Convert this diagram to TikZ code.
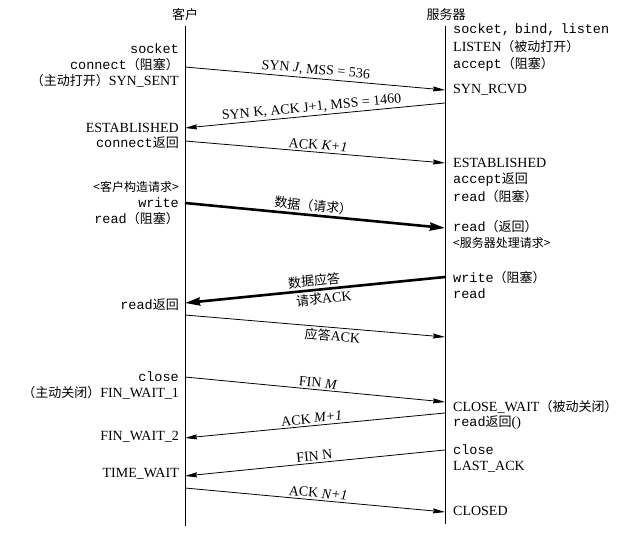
\documentclass[tikz,border=0pt]{standalone}
\usepackage{fontspec}
\setmainfont{Liberation Serif}
\setmonofont{Liberation Mono}
\newfontfamily\cjk{Noto Sans CJK SC}
\usetikzlibrary{arrows.meta}
\newcommand{\zh}[1]{{\cjk\fontsize{13}{15}\selectfont #1}}
\newcommand{\tm}[1]{{\ttfamily\fontsize{13.5}{15}\selectfont #1}}
\newcommand{\smallzh}[1]{{\cjk\fontsize{12}{14}\selectfont #1}}
\begin{document}
\begin{tikzpicture}[x=1pt,y=-1pt,
  lt/.style={anchor=east,inner sep=0pt,font=\fontsize{14}{16}\selectfont},
  rt/.style={anchor=west,inner sep=0pt,font=\fontsize{14}{16}\selectfont},
  msg/.style={line width=0.8pt,-{Stealth[length=12pt,width=5pt,inset=1pt]}},
  bigmsg/.style={line width=2.6pt,-{Stealth[length=15pt,width=8pt,inset=1pt]}},
  lbl/.style={sloped,inner sep=2pt,font=\fontsize{14}{16}\selectfont},
  life/.style={line width=0.8pt},
  ttl/.style={inner sep=1pt,font=\cjk\fontsize{13}{15}\selectfont}]
\fill[white] (0,0) rectangle (625,534);
\useasboundingbox (0,0) rectangle (625,534);

% titles and lifelines
\node[ttl] (ctitle) at (185,15) {客户};
\node[ttl] (stitle) at (446,15) {服务器};
\coordinate (ctop) at (185,26);
\coordinate (cbot) at (185,526);
\coordinate (stop) at (445,26);
\coordinate (sbot) at (445,524);
\draw[life] (ctop) -- (cbot);
\draw[life] (stop) -- (sbot);

% client side texts
\node[lt] (sock) at (179,49) {\tm{socket}};
\node[lt] (conn) at (179,65) {\tm{connect}\zh{（阻塞）}};
\node[lt] (sent) at (179,81) {\zh{（主动打开）}SYN\_SENT};
\node[lt] (cest) at (179,128) {ESTABLISHED};
\node[lt] (cret) at (179,143) {\tm{connect}\zh{返回}};
\node[lt] (creq) at (179,187) {\smallzh{<客户构造请求>}};
\node[lt] (cwr) at (179,203) {\tm{write}};
\node[lt] (crd) at (179,219) {\tm{read}\zh{（阻塞）}};
\node[lt] (crret) at (179,305) {\tm{read}\zh{返回}};
\node[lt] (ccl) at (179,377) {\tm{close}};
\node[lt] (fw1) at (179,393) {\zh{（主动关闭）}FIN\_WAIT\_1};
\node[lt] (fw2) at (179,437) {FIN\_WAIT\_2};
\node[lt] (tw) at (179,474) {TIME\_WAIT};

% server side texts
\node[rt] (sbl) at (453,30) {\tm{socket,\hspace{-3pt} bind,\hspace{-3pt} listen}};
\node[rt] (lis) at (453,47) {LISTEN\zh{（被动打开）}};
\node[rt] (acc) at (453,64) {\tm{accept}\zh{（阻塞）}};
\node[rt] (rcvd) at (453,90) {SYN\_RCVD};
\node[rt] (sest) at (453,163) {ESTABLISHED};
\node[rt] (aret) at (453,180) {\tm{accept}\zh{返回}};
\node[rt] (srd) at (453,197) {\tm{read}\zh{（阻塞）}};
\node[rt] (srret) at (453,227) {\tm{read}\zh{（返回）}};
\node[rt] (sproc) at (453,243) {\smallzh{<服务器处理请求>}};
\node[rt] (swr) at (453,278) {\tm{write}\zh{（阻塞）}};
\node[rt] (srd2) at (453,294) {\tm{read}};
\node[rt] (cw) at (453,407) {CLOSE\_WAIT\zh{（被动关闭）}};
\node[rt] (rret) at (453,423) {\tm{read}\zh{返回}()};
\node[rt] (scl) at (453,450) {\tm{close}};
\node[rt] (lack) at (453,467) {LAST\_ACK};
\node[rt] (closed) at (453,511) {CLOSED};

% message end points
\coordinate (c1) at (185,67);  \coordinate (s1) at (445,90);
\coordinate (s2) at (445,103); \coordinate (c2) at (185,128);
\coordinate (c3) at (185,141); \coordinate (s3) at (445,163);
\coordinate (c4) at (185,203); \coordinate (s4) at (445,228);
\coordinate (s5) at (445,277); \coordinate (c5) at (185,303);
\coordinate (c6) at (185,315); \coordinate (s6) at (445,337);
\coordinate (c7) at (185,377); \coordinate (s7) at (445,402);
\coordinate (s8) at (445,413); \coordinate (c8) at (185,438);
\coordinate (s9) at (445,450); \coordinate (c9) at (185,476);
\coordinate (c10) at (185,488); \coordinate (s10) at (445,512);

% messages
\draw[msg] (c1) -- node[lbl,above] {SYN \textit{J}, MSS = 536} (s1);
\draw[msg] (s2) -- node[lbl,above,pos=.51] {SYN K, ACK J+1, MSS = 1460} (c2);
\draw[msg] (c3) -- node[lbl,above,pos=.51] {ACK \textit{K+1}} (s3);
\draw[bigmsg] (c4) -- node[lbl,above,pos=.49] {\zh{数据（请求）}} (s4);
\draw[bigmsg] (s5) -- node[lbl,above,pos=.5] {\zh{数据应答}}
                      node[lbl,below,pos=.47] {\zh{请求}ACK} (c5);
\draw[msg] (c6) -- node[lbl,below,pos=.57] {\zh{应答}ACK} (s6);
\draw[msg] (c7) -- node[lbl,above,pos=.51] {FIN \textit{M}} (s7);
\draw[msg] (s8) -- node[lbl,above,pos=.51] {ACK \textit{M+1}} (c8);
\draw[msg] (s9) -- node[lbl,above,pos=.5] {FIN N} (c9);
\draw[msg] (c10) -- node[lbl,above,pos=.51] {ACK \textit{N+1}} (s10);
\end{tikzpicture}
\end{document}
